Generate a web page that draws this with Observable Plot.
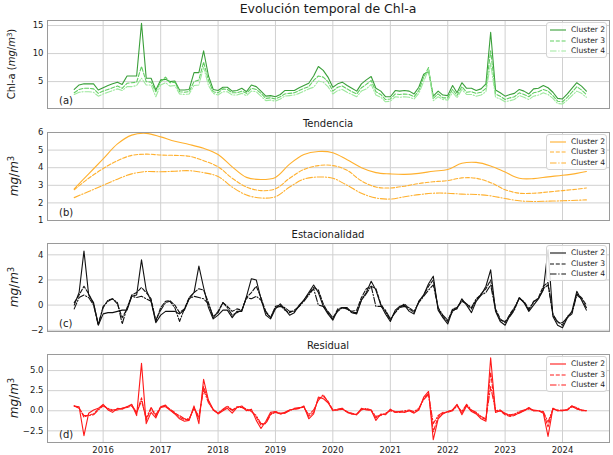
<!DOCTYPE html>
<html><head><meta charset="utf-8">
<script src="https://cdn.jsdelivr.net/npm/d3@7"></script>
<script src="https://cdn.jsdelivr.net/npm/@observablehq/plot@0.6"></script>
<style>
body{margin:0;background:#fff;}
#fig{position:relative;width:613px;height:455px;font-family:"DejaVu Sans",sans-serif;overflow:hidden;background:#fff;}
.ttl{position:absolute;left:47px;width:562px;text-align:center;color:#1a1a1a;white-space:nowrap;line-height:1;}
.ylab{position:absolute;transform:translate(-50%,-50%) rotate(-90deg);white-space:nowrap;color:#1a1a1a;line-height:1;}
.plab{position:absolute;font-size:10px;color:#1a1a1a;line-height:1;}
.leg{position:absolute;border:1px solid #d4d4d4;border-radius:3px;background:rgba(255,255,255,0.85);font-size:7.6px;color:#1a1a1a;}
.row{position:absolute;left:0;height:10px;line-height:10px;}
.row svg{position:absolute;left:3px;top:2px;}
.row span{position:absolute;left:24px;top:0;white-space:nowrap;}
</style></head><body><div id="fig"></div><script>
// ---------- data (monthly, Jul 2015 - Jun 2024) ----------
const seriesNames = ["Cluster 2","Cluster 3","Cluster 4"];
const yearLabels = [2016,2017,2018,2019,2020,2021,2022,2023,2024];

const obsC2 = [3.6,4.4,4.6,4.6,4.6,3.5,3.9,4.3,4.6,4.9,4.5,6.0, 6.0,6.0,15.4,5.6,5.6,3.5,5.3,5.4,5.0,5.1,3.5,3.5, 3.6,6.6,6.6,10.5,6.0,3.6,3.4,4.0,4.0,3.3,3.4,3.8, 3.2,4.4,4.1,3.3,2.4,2.5,2.3,2.7,3.4,3.4,3.4,3.9, 4.3,4.7,6.0,7.7,7.0,5.8,4.0,4.6,4.9,4.3,3.8,3.3, 4.6,5.3,5.9,3.8,3.3,2.3,2.3,3.4,3.3,3.4,3.3,2.8, 4.0,6.3,6.8,2.4,3.3,2.6,2.5,4.3,3.0,4.8,3.8,3.8, 3.4,3.7,4.6,13.8,3.5,3.0,2.4,2.7,2.9,3.6,3.3,2.8, 3.7,3.8,4.3,3.9,3.1,2.0,1.9,2.8,3.8,4.8,4.2,3.3];
const obsC3 = [3.0,3.6,3.8,3.8,3.7,2.9,3.3,3.6,3.9,4.2,3.8,4.7, 4.8,4.9,7.7,5.0,4.9,3.2,5.0,5.8,4.8,4.9,3.2,3.1, 3.2,5.0,5.3,8.5,5.2,3.2,3.0,3.7,3.6,3.0,3.0,3.3, 2.9,3.8,3.6,2.9,2.0,2.1,1.9,2.3,2.8,2.9,3.0,3.4, 3.8,4.1,5.2,6.0,5.8,5.0,3.3,4.0,4.2,3.7,3.2,2.8, 3.9,4.5,5.2,3.2,2.7,1.8,1.9,2.8,2.7,2.8,2.7,2.3, 3.4,5.8,7.5,2.0,2.8,2.1,2.1,3.6,2.5,4.1,3.1,3.2, 2.9,3.1,3.8,10.5,2.8,2.4,1.8,2.1,2.3,3.0,2.7,2.3, 3.0,3.2,3.6,3.3,2.5,1.5,1.4,2.2,3.1,4.1,3.5,2.7];
const obsC4 = [2.7,3.1,3.2,3.2,3.1,2.4,2.8,3.1,3.4,3.7,3.4,4.1, 4.1,4.3,5.6,4.4,4.4,2.3,4.4,4.8,4.2,4.3,2.8,2.7, 2.8,4.3,4.4,7.6,4.3,2.9,2.6,3.2,3.2,2.6,2.6,2.9, 2.5,3.3,3.2,2.4,1.6,1.7,1.5,1.9,2.4,2.5,2.6,2.9, 3.3,3.7,4.0,5.1,4.9,4.1,2.8,3.4,3.6,3.1,2.7,2.3, 3.3,3.7,4.5,2.6,2.2,1.4,1.5,2.3,2.2,2.3,2.2,1.9, 2.9,5.0,7.2,1.6,2.3,1.8,1.7,3.1,2.1,3.6,2.7,2.7, 2.4,2.6,3.2,8.3,2.2,1.9,1.4,1.6,1.8,2.5,2.2,1.8, 2.4,2.6,3.0,2.7,2.0,1.1,1.0,1.7,2.5,3.3,2.9,2.2];

// trend, read every 3 months (Jul 2015 ... Apr 2024) plus Jun 2024
const trendC2 = [2.80,3.65,4.5,5.35,5.85,5.95,5.75,5.5,5.32,5.1,4.75,4.05,3.45,3.33,3.45,4.2,4.75,4.92,4.85,4.45,4.0,3.72,3.65,3.62,3.68,3.8,3.9,4.25,4.3,4.1,3.75,3.4,3.38,3.48,3.57,3.68,3.78];
const trendC3 = [2.75,3.4,3.95,4.4,4.7,4.77,4.72,4.7,4.65,4.4,4.05,3.4,2.9,2.7,2.8,3.4,3.9,4.12,4.12,3.85,3.25,2.9,2.85,2.95,3.1,3.2,3.27,3.42,3.4,3.15,2.75,2.55,2.55,2.62,2.7,2.78,2.85];
const trendC4 = [2.3,2.65,3.0,3.35,3.65,3.78,3.77,3.8,3.83,3.72,3.5,2.9,2.45,2.28,2.35,2.9,3.35,3.47,3.4,3.0,2.55,2.28,2.22,2.35,2.47,2.55,2.55,2.5,2.48,2.4,2.25,2.12,2.08,2.1,2.12,2.15,2.17];

const seasC2 = [0.0,1.0,4.3,0.8,0.2,-1.6,-0.7,-0.6,-0.6,-0.5,-0.4,-0.4, 0.7,0.8,3.6,1.2,0.3,-1.4,-0.8,-0.5,-0.5,-0.5,-0.7,-0.4, 0.5,1.0,3.1,1.4,-0.2,-1.1,-0.8,-0.4,-0.4,-1.0,-0.5,-0.5, 0.7,2.1,2.0,0.5,-0.8,-1.1,-0.3,0.1,-0.3,-0.8,-0.6,0.0, 0.4,1.0,1.6,1.0,-0.1,-0.7,-1.2,-0.4,-0.2,-0.2,-0.6,-0.7, 0.4,1.0,1.9,1.2,0.0,-0.7,-1.3,-0.4,-0.1,0.0,-0.5,-0.7, 0.3,0.8,1.7,2.3,-0.4,-1.0,-1.5,-0.4,-0.3,0.5,0.0,-0.6, 0.3,0.8,1.5,2.8,-0.5,-1.3,-1.6,-0.8,-0.3,0.6,0.2,-0.5, 0.0,0.5,1.2,4.4,-0.9,-1.6,-1.8,-1.0,-0.5,1.1,0.4,-0.4];
const seasC3 = [0.2,0.8,1.5,0.9,0.1,-1.5,-0.2,0.4,0.5,0.1,-1.0,-0.3, 0.8,1.0,1.4,1.0,0.5,-1.3,-0.2,0.3,0.35,0.0,-0.6,-0.3, 0.6,1.0,1.3,1.2,0.2,-1.0,-0.5,0.2,-0.1,-0.5,-0.3,-0.4, 0.6,1.0,1.5,0.6,-0.6,-1.0,-0.1,0.0,-0.4,-0.6,-0.4,-0.1, 0.4,0.9,1.4,1.2,0.1,-0.6,-1.1,-0.3,-0.2,-0.3,-0.5,-0.4, 0.6,1.3,1.5,1.3,0.1,-0.5,-1.2,-0.5,-0.2,0.1,-0.3,-0.6, 0.3,0.8,1.5,2.0,-0.3,-0.9,-1.3,-0.3,-0.2,0.3,0.1,-0.3, 0.4,0.9,1.3,2.0,-0.3,-1.1,-1.4,-0.7,-0.2,0.5,0.3,-0.3, 0.2,0.6,1.5,1.8,-0.8,-1.3,-1.6,-0.9,-0.6,0.9,0.6,0.0];
const seasC4 = [-0.3,0.6,0.8,0.6,0.0,-1.6,-0.1,0.3,0.5,0.2,-1.5,-0.2, 0.7,0.6,0.7,0.5,0.3,-1.2,-0.4,0.2,0.3,-0.2,-1.3,-0.3, 0.5,0.7,0.6,0.5,0.1,-0.9,-0.6,0.2,-0.2,-0.8,-0.6,-0.4, 0.6,0.5,0.7,0.4,-0.5,-1.0,-0.2,-0.1,-0.2,-0.5,-0.5,-0.1, 0.3,0.8,1.3,0.0,-0.1,-0.5,-1.0,-0.5,-0.2,-0.3,-0.6,-0.6, 0.4,0.9,1.5,-0.1,-0.1,-0.4,-1.1,-0.6,-0.2,-0.1,-0.2,-0.5, 0.2,0.7,1.2,1.6,-0.2,-0.8,-1.2,-0.5,-0.2,0.4,0.1,-0.2, 0.5,0.8,1.0,1.6,-0.4,-1.2,-1.3,-0.9,-0.4,0.6,0.2,-0.4, 0.3,0.5,1.3,1.6,-0.7,-1.4,-1.4,-1.0,-0.7,0.8,0.5,-0.2];

const resC2 = [0.6,0.5,-3.1,-0.3,0.1,0.3,0.8,0.1,-0.2,0.3,0.2,0.5, 0.8,-0.6,5.9,-1.6,-0.2,-0.9,0.5,0.5,0.1,-0.4,-1.0,-1.3, -1.2,0.6,-1.6,3.9,1.3,0.2,-0.4,0.0,0.3,-0.3,0.4,0.6, 0.0,0.2,-1.2,-2.2,-1.3,-0.2,-0.1,-0.4,-0.2,0.1,0.2,0.3, 0.6,-1.0,-0.4,1.7,1.5,1.0,0.1,0.1,0.3,-0.2,-0.4,-0.5, 0.3,0.1,0.1,-1.2,-0.4,-0.5,0.2,-0.2,-0.1,-0.2,0.0,-0.3, 0.1,1.7,2.4,-3.6,-1.0,-0.4,-0.1,0.1,0.8,-0.5,0.6,-0.1, -0.4,-1.0,-1.3,6.6,-0.2,0.0,-0.3,-0.6,-0.5,-0.3,0.0,0.4, 0.0,0.0,-0.3,-3.2,0.3,0.0,0.0,0.1,0.6,0.2,0.1,0.0];
const resC3 = [0.6,0.4,-0.8,-0.5,-0.4,0.2,0.7,0.2,0.0,0.1,0.3,0.4, 0.6,-0.3,1.6,-1.2,0.3,-0.7,0.4,0.6,0.2,-0.2,-0.8,-1.1, -1.1,0.4,-1.0,3.0,1.2,0.1,-0.3,0.1,0.5,0.0,0.5,0.5, 0.2,0.0,-0.8,-1.8,-1.5,-0.4,-0.1,-0.3,-0.3,0.1,0.2,0.3, 0.5,-0.7,-0.2,1.5,1.8,1.2,0.1,0.1,0.2,-0.1,-0.4,-0.4, 0.2,0.2,0.0,-0.9,-0.5,-0.4,0.1,-0.1,-0.2,-0.1,0.0,-0.2, 0.2,1.5,2.2,-2.6,-0.8,-0.3,-0.1,0.1,0.7,-0.3,0.7,0.0, -0.3,-0.8,-1.1,4.8,-0.1,0.0,-0.5,-0.7,-0.6,-0.2,0.0,0.3, 0.0,0.0,-0.2,-2.0,0.3,0.0,0.1,0.1,0.5,0.3,0.0,0.0];
const resC4 = [0.6,0.3,-0.6,-0.6,-0.5,0.1,0.6,0.3,0.1,0.2,0.3,0.5, 0.7,-0.2,1.2,-0.9,0.4,-0.5,0.5,0.7,0.1,-0.3,-0.6,-1.0, -1.0,0.3,-0.7,2.6,1.0,0.1,-0.3,0.2,0.6,0.1,0.4,0.4, 0.1,-0.1,-0.6,-1.6,-1.6,-0.5,-0.2,-0.4,-0.3,0.0,0.3,0.4, 0.4,-0.5,0.1,1.3,2.0,1.1,0.0,0.2,0.3,-0.2,-0.3,-0.5, 0.1,0.3,0.1,-0.7,-0.6,-0.3,0.0,-0.2,-0.1,0.0,0.1,-0.1, 0.3,1.4,2.0,-1.6,-0.6,-0.2,-0.2,0.0,0.6,-0.1,0.8,0.1, -0.2,-0.7,-1.0,3.0,0.0,0.1,-0.4,-0.5,-0.4,-0.1,0.1,0.2, 0.1,0.0,-0.1,-1.4,0.2,0.1,0.0,0.2,0.6,0.4,0.1,0.0];

// tick values
const ticksA = [5,10,15];
const ticksB = [1,2,3,4,5,6];
const ticksC = [-2,0,2,4];
const ticksD = [-2.5,0,2.5,5];

// ---------- layout helpers ----------
const months = d3.utcMonth.range(new Date(Date.UTC(2015,6,1)), new Date(Date.UTC(2024,6,1)));
const trendIdx = d3.range(0,108,3).concat([107]);
const trendDates = trendIdx.map(i => months[i]);
const yearTicks = yearLabels.map(y => new Date(Date.UTC(y,0,1)));
const X0 = new Date(Date.UTC(2015,0,12)), X1 = new Date(Date.UTC(2024,9,26));
const fig = document.getElementById("fig");
const ML = 47, MR = 4, FH = 88;
const minus = s => s.replace("-", "\u2212");

function rows(vals, dates){ return vals.map((v,i)=>({date:dates[i], v})); }

function addPanel(cfg){
  const mt = 3, mb = cfg.showX ? 18 : 3;
  const marks = [
    Plot.gridX(yearTicks, {stroke:"#d0d0d0", strokeOpacity:1, strokeWidth:1}),
    Plot.gridY(cfg.yTicks, {stroke:"#d0d0d0", strokeOpacity:1, strokeWidth:1}),
    ...cfg.series.map(s => Plot.line(rows(s.values, s.dates), {
      x:"date", y:"v", stroke:s.color, strokeWidth:s.w || 1.1,
      strokeDasharray:s.dash || null, curve:s.curve || "linear"
    })),
    Plot.frame({stroke:"#9a9a9a", strokeWidth:1}),
    Plot.axisY(cfg.yTicks, {tickSize:0, tickPadding:4, fontSize:8.5, tickFormat:cfg.fmt, label:null})
  ];
  if (cfg.showX) marks.push(Plot.axisX(yearTicks, {tickSize:0, tickPadding:4, fontSize:8.5, tickFormat:d3.utcFormat("%Y"), label:null}));
  const svg = Plot.plot({
    width:613, height:FH+mt+mb, marginTop:mt, marginBottom:mb, marginLeft:ML, marginRight:MR,
    style:{fontFamily:"DejaVu Sans, sans-serif", fontSize:"8.5px", color:"#1a1a1a", background:"transparent", overflow:"visible"},
    x:{type:"utc", domain:[X0,X1], axis:null, label:null},
    y:{domain:cfg.yDomain, axis:null, label:null},
    marks
  });
  svg.style.position = "absolute"; svg.style.left = "0px"; svg.style.top = (cfg.top - mt) + "px";
  fig.appendChild(svg);

  if (cfg.title) {
    const t = document.createElement("div");
    t.className = "ttl"; t.textContent = cfg.title;
    t.style.fontSize = cfg.titleSize + "px";
    t.style.top = (cfg.top - cfg.titleGap) + "px";
    fig.appendChild(t);
  }

  const yl = document.createElement("div");
  yl.className = "ylab"; yl.innerHTML = cfg.ylabel;
  yl.style.fontSize = cfg.ylabelSize + "px";
  yl.style.left = cfg.ylabelX + "px"; yl.style.top = (cfg.top + FH/2) + "px";
  fig.appendChild(yl);

  const pl = document.createElement("div");
  pl.className = "plab"; pl.textContent = cfg.letter;
  pl.style.left = "59px"; pl.style.top = (cfg.top + FH - 12) + "px";
  fig.appendChild(pl);

  const lg = document.createElement("div");
  lg.className = "leg";
  lg.style.left = "546px"; lg.style.top = (cfg.top + 2) + "px";
  lg.style.width = "59px"; lg.style.height = "34px";
  cfg.series.forEach((s, k) => {
    const r = document.createElement("div");
    r.className = "row"; r.style.top = (2 + k*10.7) + "px";
    r.innerHTML = `<svg width="16" height="6"><line x1="0" y1="3" x2="16" y2="3" stroke="${s.color}" stroke-width="${s.w||1.1}" ${s.dash?`stroke-dasharray="${s.dash}"`:""}/></svg><span>${seriesNames[k]}</span>`;
    lg.appendChild(r);
  });
  fig.appendChild(lg);
}

const DASH = "4,1.8", DASHDOT = "6.5,1.8,1.2,1.8";

const mainT = document.createElement("div");
mainT.className = "ttl"; mainT.textContent = "Evolución temporal de Chl-a";
mainT.style.fontSize = "12.5px"; mainT.style.top = "3px";
fig.appendChild(mainT);

const mg = '<i>mg</i>/<i>m</i><sup style="font-size:0.7em;vertical-align:0.45em;line-height:0">3</sup>';

addPanel({
  top:20, yDomain:[0.2,15.9], yTicks:ticksA, fmt:d=>String(d),
  title:"", letter:"(a)",
  ylabel:"Chl-a (" + mg + ")", ylabelSize:10, ylabelX:12,
  series:[
    {values:obsC2, dates:months, color:"#3a9f3a", w:1.1},
    {values:obsC3, dates:months, color:"#62cf62", dash:DASH},
    {values:obsC4, dates:months, color:"#9de89d", dash:DASHDOT}
  ]
});
addPanel({
  top:131.5, yDomain:[1,6], yTicks:ticksB, fmt:d=>String(d),
  title:"Tendencia", titleSize:10, titleGap:13, letter:"(b)",
  ylabel:mg, ylabelSize:12, ylabelX:14,
  series:[
    {values:trendC2, dates:trendDates, color:"#ffb02e", curve:"catmull-rom"},
    {values:trendC3, dates:trendDates, color:"#ffb02e", dash:DASH, curve:"catmull-rom"},
    {values:trendC4, dates:trendDates, color:"#ffb02e", dash:DASHDOT, curve:"catmull-rom"}
  ]
});
addPanel({
  top:243, yDomain:[-2.1,4.9], yTicks:ticksC, fmt:d=>minus(String(d)),
  title:"Estacionalidad", titleSize:10, titleGap:13, letter:"(c)",
  ylabel:mg, ylabelSize:12, ylabelX:14,
  series:[
    {values:seasC2, dates:months, color:"#111"},
    {values:seasC3, dates:months, color:"#111", dash:DASH},
    {values:seasC4, dates:months, color:"#111", dash:DASHDOT}
  ]
});
addPanel({
  top:354, yDomain:[-3.95,7.0], yTicks:ticksD, fmt:d=>minus(d.toFixed(1)),
  title:"Residual", titleSize:10, titleGap:13, letter:"(d)", showX:true,
  ylabel:mg, ylabelSize:12, ylabelX:14,
  series:[
    {values:resC2, dates:months, color:"#ff1a1a"},
    {values:resC3, dates:months, color:"#ff1a1a", dash:DASH},
    {values:resC4, dates:months, color:"#ff1a1a", dash:DASHDOT}
  ]
});
</script></body></html>
